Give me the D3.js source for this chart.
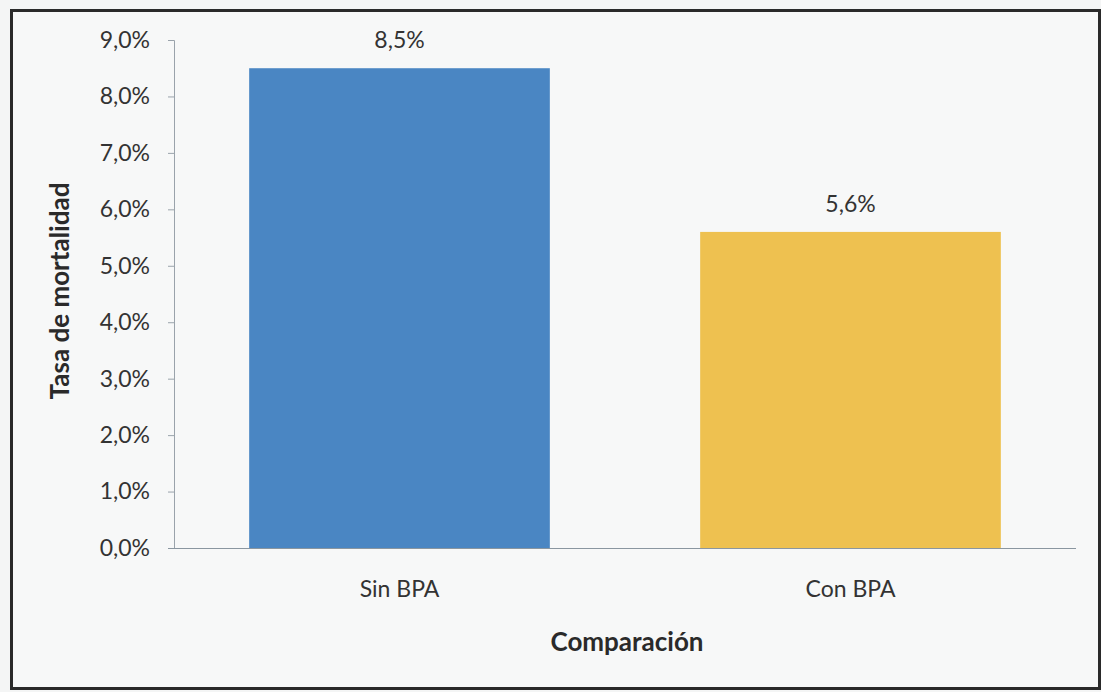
<!DOCTYPE html>
<html><head><meta charset="utf-8">
<script src="https://cdn.jsdelivr.net/npm/d3@7"></script>
<style>body{margin:0;background:#f4f5f5;}svg{display:block;}</style>
</head><body>
<svg id="c" width="1101" height="692"></svg>
<script>
const categories = ["Sin BPA", "Con BPA"];
const values = [0.085, 0.056];
const valueLabels = ["8,5%", "5,6%"];
const tickValues = [0, 0.01, 0.02, 0.03, 0.04, 0.05, 0.06, 0.07, 0.08, 0.09];
const colors = ["#4a86c3", "#eec150"];

(function(){
const svg = d3.select("#c");
const font = "Lato, 'Open Sans', sans-serif";
const txt = "#333333";
svg.append("rect").attr("x",0).attr("y",0).attr("width",1101).attr("height",692).attr("fill","#f4f5f5");
svg.append("rect").attr("x",11.5).attr("y",10.5).attr("width",1088).attr("height",678)
  .attr("fill","#f7f8f8").attr("stroke","#2a2a2a").attr("stroke-width",3);

const pl=174, pr=1076, pt=40, pb=548;
const x = d3.scaleBand().domain(categories).range([pl,pr]).paddingInner(1/3).paddingOuter(1/6);
const y = d3.scaleLinear().domain([0,0.09]).range([pb,pt]);

const fmt = d => d3.format(".1f")(d*100).replace(".",",") + "%";

const yAxis = svg.append("g").attr("transform",`translate(${pl},0)`)
  .call(d3.axisLeft(y).tickValues(tickValues).tickFormat(fmt).tickSizeOuter(0).tickSize(6).tickPadding(18));
yAxis.select(".domain").attr("stroke","#9aa3ab");
yAxis.selectAll(".tick line").attr("stroke","#9aa3ab");
yAxis.selectAll("text").attr("font-family",font).attr("font-size",23).attr("fill",txt);

svg.selectAll(".bar").data(values).enter().append("rect")
  .attr("x",(d,i)=>x(categories[i])).attr("width",x.bandwidth())
  .attr("y",d=>y(d)).attr("height",d=>y(0)-y(d))
  .attr("fill",(d,i)=>colors[i]);

const xAxis = svg.append("g").attr("transform",`translate(0,${pb})`)
  .call(d3.axisBottom(x).tickSize(0).tickPadding(33));
xAxis.select(".domain").attr("stroke","#8a96a0").attr("d",`M${pl-6},0.5H${pr}`);
xAxis.selectAll("text").attr("font-family",font).attr("font-size",23).attr("fill",txt);

svg.selectAll(".lbl").data(values).enter().append("text")
  .attr("x",(d,i)=>x(categories[i])+x.bandwidth()/2).attr("y",d=>y(d)-20)
  .attr("text-anchor","middle").attr("font-family",font).attr("font-size",23).attr("fill",txt)
  .text((d,i)=>valueLabels[i]);

svg.append("text").attr("x",(pl+pr)/2+2).attr("y",651).attr("text-anchor","middle")
  .attr("font-family",font).attr("font-size",26).attr("font-weight","bold").attr("fill","#2a2a2a").text("Comparación");
svg.append("text").attr("transform",`translate(69,${(pt+pb)/2-3}) rotate(-90)`).attr("text-anchor","middle")
  .attr("font-family",font).attr("font-size",26).attr("font-weight","bold").attr("fill","#2a2a2a").text("Tasa de mortalidad");
})();
</script>
</body></html>
